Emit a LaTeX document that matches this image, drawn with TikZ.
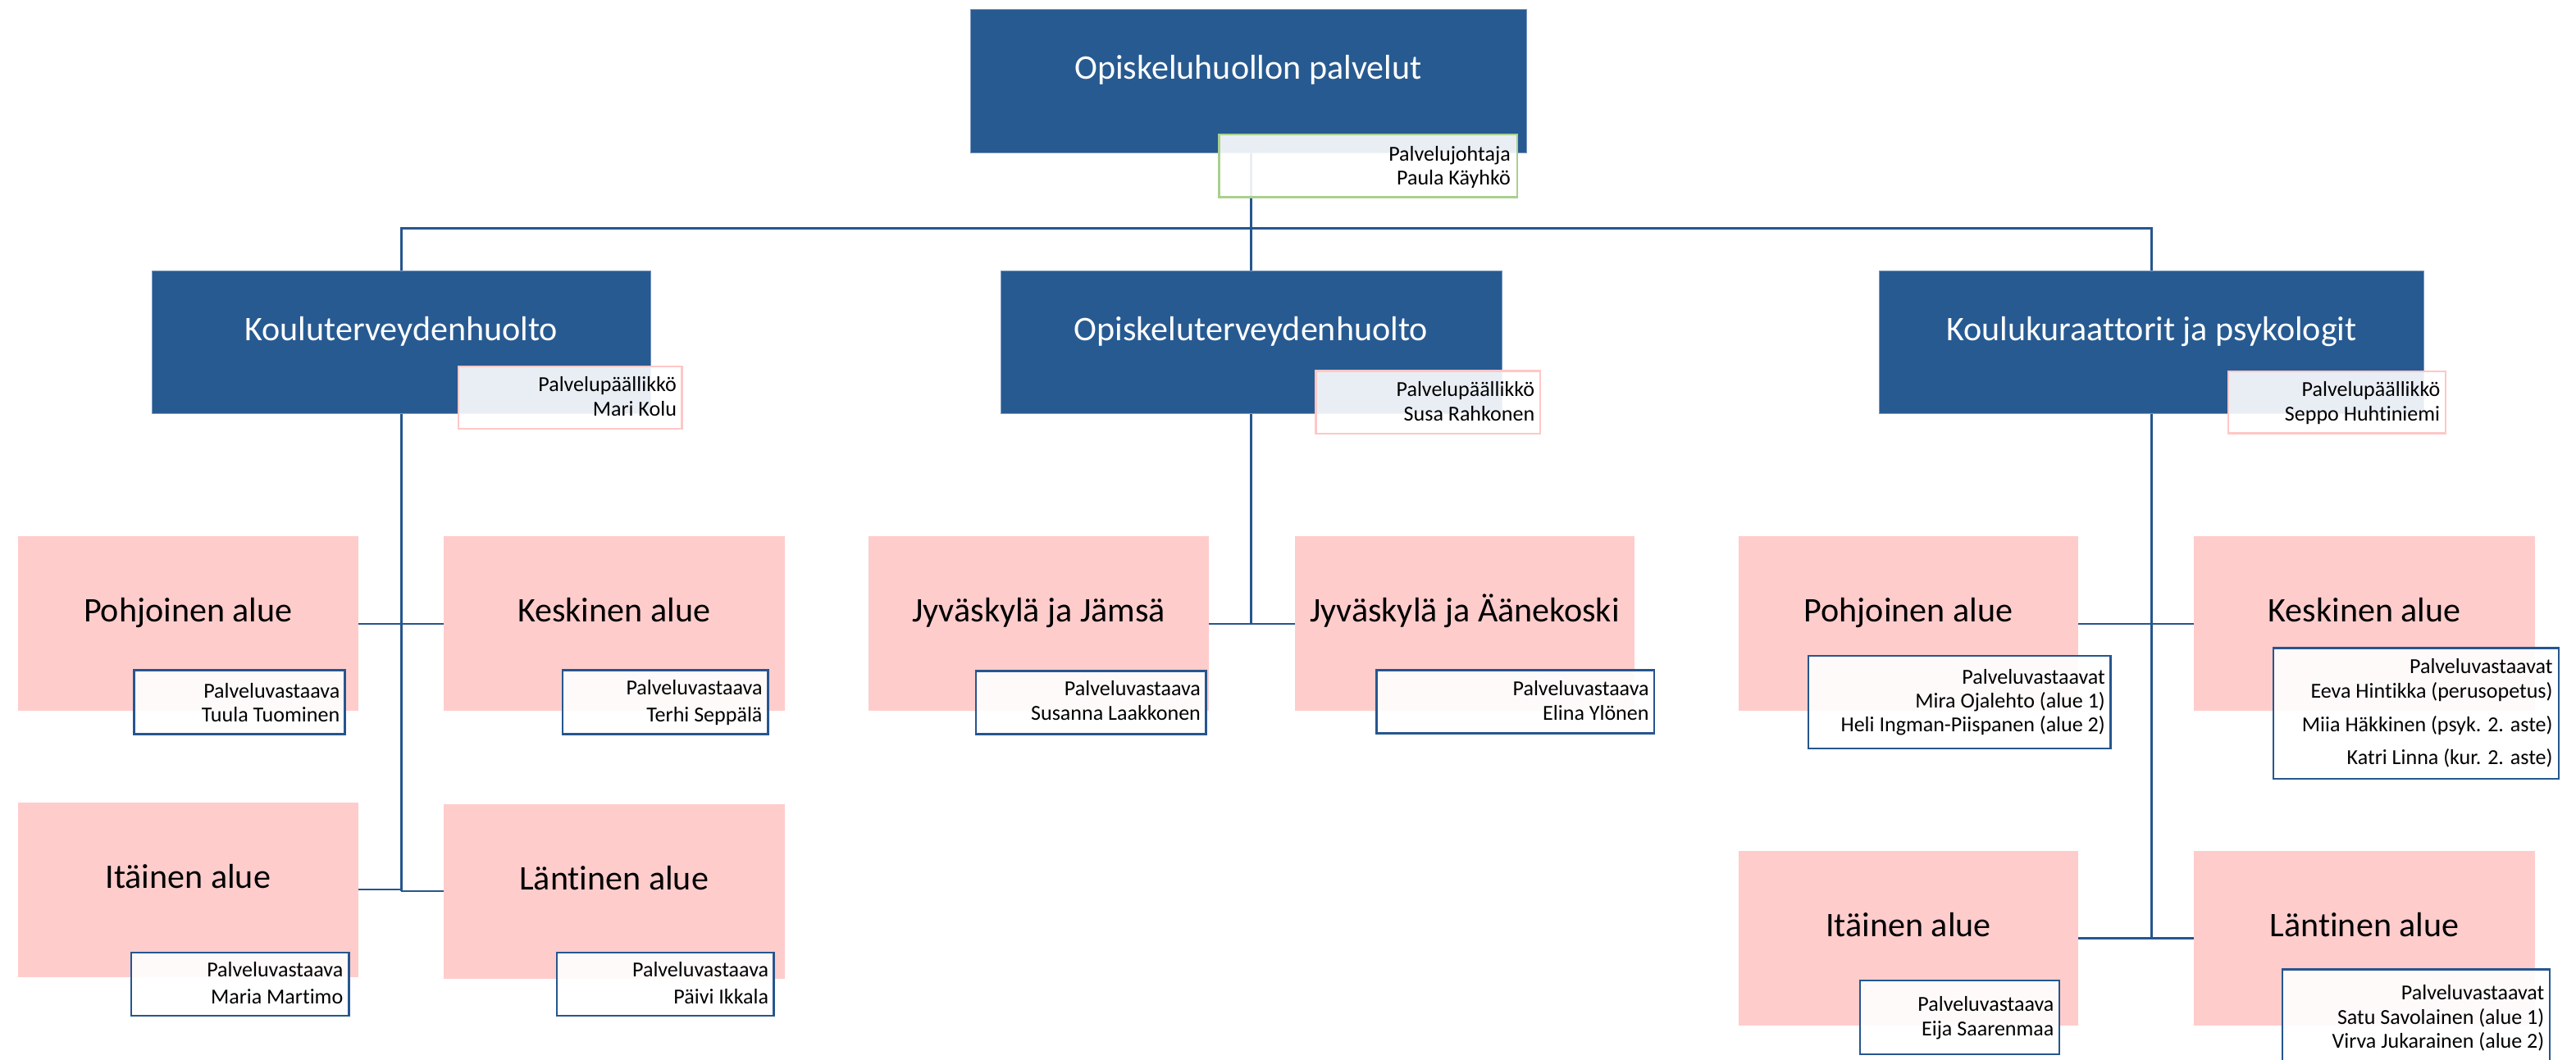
\documentclass[tikz,border=0pt]{standalone}
\usepackage{fontspec}
\setmainfont{Carlito}[Ligatures=NoCommon]
\pgfdeclarelayer{background}
\pgfsetlayers{background,main}
\definecolor{mainblue}{RGB}{39,90,145}
\definecolor{mainedge}{RGB}{120,150,190}
\definecolor{connblue}{RGB}{38,86,142}
\definecolor{areapink}{RGB}{255,204,204}
\definecolor{pinkedge}{RGB}{255,199,199}
\definecolor{greenedge}{RGB}{169,208,142}
\begin{document}
\begin{tikzpicture}[x=1pt,y=-1pt,
  mainbox/.style={rectangle, fill=mainblue, draw=mainedge, line width=0.4pt, text=white,
    font=\fontsize{21}{25}\selectfont, inner sep=0pt, outer sep=0pt, text height=9pt, text depth=11pt},
  areabox/.style={rectangle, fill=areapink, text=black,
    font=\fontsize{21}{25}\selectfont, inner sep=0pt, outer sep=0pt, text height=9pt, text depth=11pt},
  subbox/.style={rectangle, fill=white, fill opacity=0.9, line width=1.2pt, inner sep=0pt, outer sep=0pt},
  headsub/.style={subbox, draw=pinkedge},
  topsub/.style={subbox, draw=greenedge},
  areasub/.style={subbox, draw=connblue},
  subtext/.style={anchor=north east, align=right, inner sep=0pt, outer sep=0pt,
    font=\fontsize{13}{14.5}\selectfont, text=black},
  conn/.style={draw=connblue, line width=1.2pt},
]
\useasboundingbox (0,0) rectangle (1568,645);
\clip (0,0) rectangle (1568,645);

% level 1
\node[mainbox, minimum width=338.4pt, minimum height=87.5pt] (T) at (759.8,49.25) {Opiskeluhuollon palvelut};
% level 2
\node[mainbox, minimum width=303.4pt, minimum height=87.3pt] (K1) at (244.3,208.35) {Kouluterveydenhuolto};
\node[mainbox, minimum width=305pt, minimum height=87.3pt] (K2) at (761.5,208.35) {Opiskeluterveydenhuolto};
\node[mainbox, minimum width=331.5pt, minimum height=87.3pt] (K3) at (1309.6,208.35) {Koulukuraattorit ja psykologit};

% level 3
\node[areabox, minimum width=207pt, minimum height=106.3pt] (A1) at (114.5,379.85) {Pohjoinen alue};
\node[areabox, minimum width=207.5pt, minimum height=106.3pt] (A2) at (373.75,379.85) {Keskinen alue};
\node[areabox, minimum width=207pt, minimum height=106.5pt] (A3) at (114.5,541.75) {Itäinen alue};
\node[areabox, minimum width=207.5pt, minimum height=106.5pt] (A4) at (373.75,542.75) {Läntinen alue};

\node[areabox, minimum width=207.4pt, minimum height=106.3pt] (B1) at (632.3,379.85) {Jyväskylä ja Jämsä};
\node[areabox, minimum width=207pt, minimum height=106.3pt] (B2) at (891.5,379.85) {Jyväskylä ja Äänekoski};

\node[areabox, minimum width=206.7pt, minimum height=106.3pt] (C1) at (1161.65,379.85) {Pohjoinen alue};
\node[areabox, minimum width=207.5pt, minimum height=106.3pt] (C2) at (1439.25,379.85) {Keskinen alue};
\node[areabox, minimum width=206.7pt, minimum height=106.2pt] (C3) at (1161.65,571.4) {Itäinen alue};
\node[areabox, minimum width=207.5pt, minimum height=106.2pt] (C4) at (1439.25,571.4) {Läntinen alue};

% connectors
\begin{pgfonlayer}{background}
\fill[white] (0,0) rectangle (1568,645);
\coordinate (bus) at (0,139);
\draw[conn] (K2.north) -- (K2.north |- T.south);
\draw[conn, line join=miter] (K1.north) -- (K1.north |- bus) -- (K3.north |- bus) -- (K3.north);
\draw[conn] (K1.south) -- (K1.south |- A4.west);
\draw[conn] (A1.east) -- (A2.west);
\draw[conn, line join=miter] (A3.east) -- (K1.south |- A3.east);
\draw[conn, line join=miter] (K1.south |- A4.west) -- (A4.west);
\draw[conn] (K2.south) -- (K2.south |- B1.east);
\draw[conn] (B1.east) -- (B2.west);
\draw[conn] (K3.south) -- (K3.south |- C3.east);
\draw[conn] (C1.east) -- (C2.west);
\draw[conn] (C3.east) -- (C4.west);
\end{pgfonlayer}

% sub boxes, level 1 and 2
\node[topsub, minimum width=181.6pt, minimum height=38pt] (Ts) at (832.8,101) {};
\node[subtext] (Tt) at ([xshift=-4.2pt,yshift=-5.85pt]Ts.north east) {\strut Palvelujohtaja\\Paula Käyhkö};
\node[headsub, minimum width=136pt, minimum height=38pt] (K1s) at (347,242) {};
\node[subtext] (K1t) at ([xshift=-3.2pt,yshift=-5.35pt]K1s.north east) {\strut Palvelupäällikkö\\[0.5pt]Mari Kolu};
\node[headsub, minimum width=136.6pt, minimum height=38.2pt] (K2s) at (869.3,244.9) {};
\node[subtext] (K2t) at ([xshift=-3.5pt,yshift=-5.35pt]K2s.north east) {\strut Palvelupäällikkö\\[0.5pt]Susa Rahkonen};
\node[headsub, minimum width=132.5pt, minimum height=37.8pt] (K3s) at (1422.5,244.9) {};
\node[subtext] (K3t) at ([xshift=-3.5pt,yshift=-5.15pt]K3s.north east) {\strut Palvelupäällikkö\\[0.5pt]Seppo Huhtiniemi};

% sub boxes, level 3
\node[areasub, minimum width=128.4pt, minimum height=39pt] (A1s) at (145.8,427.5) {};
\node[subtext] (A1t) at ([xshift=-3.2pt,yshift=-6.85pt]A1s.north east) {\strut Palveluvastaava\\Tuula Tuominen};
\node[areasub, minimum width=125pt, minimum height=39pt] (A2s) at (405,427.5) {};
\node[subtext] (A2t) at ([xshift=-3.5pt,yshift=-5.15pt]A2s.north east) {\strut Palveluvastaava\\[1.5pt]Terhi Seppälä};
\node[areasub, minimum width=132.5pt, minimum height=38.5pt] (A3s) at (146.25,599.25) {};
\node[subtext] (A3t) at ([xshift=-3.7pt,yshift=-4.85pt]A3s.north east) {\strut Palveluvastaava\\[2pt]Maria Martimo};
\node[areasub, minimum width=132pt, minimum height=38.5pt] (A4s) at (405,599.25) {};
\node[subtext] (A4t) at ([xshift=-3.2pt,yshift=-4.85pt]A4s.north east) {\strut Palveluvastaava\\[2pt]Päivi Ikkala};

\node[areasub, minimum width=140pt, minimum height=38.5pt] (B1s) at (664,427.75) {};
\node[subtext] (B1t) at ([xshift=-3.2pt,yshift=-5.05pt]B1s.north east) {\strut Palveluvastaava\\[0.5pt]Susanna Laakkonen};
\node[areasub, minimum width=169pt, minimum height=38.5pt] (B2s) at (922.5,427.25) {};
\node[subtext] (B2t) at ([xshift=-3.3pt,yshift=-5.55pt]B2s.north east) {\strut Palveluvastaava\\[0.5pt]Elina Ylönen};

\node[areasub, minimum width=183.9pt, minimum height=56.3pt] (C1s) at (1192.75,427.65) {};
\node[subtext] (C1t) at ([xshift=-3.3pt,yshift=-7.05pt]C1s.north east) {\strut Palveluvastaavat\\Mira Ojalehto (alue 1)\\Heli Ingman-Piispanen (alue 2)};
\node[areasub, minimum width=173.7pt, minimum height=79.5pt] (C2s) at (1470.65,434.45) {};
\node[subtext] (C2t) at ([xshift=-3.7pt,yshift=-5.15pt]C2s.north east) {\strut Palveluvastaavat\\[0.8pt]Eeva Hintikka (perusopetus)\\[5.5pt]Miia Häkkinen (psyk. 2. aste)\\[5.7pt]Katri Linna (kur. 2. aste)};
\node[areasub, minimum width=121.2pt, minimum height=45pt] (C3s) at (1192.9,619.5) {};
\node[subtext] (C3t) at ([xshift=-3.3pt,yshift=-8.65pt]C3s.north east) {\strut Palveluvastaava\\[0.5pt]Eija Saarenmaa};
\node[areasub, minimum width=162.7pt, minimum height=70pt] (C4s) at (1470.65,625.3) {};
\node[subtext] (C4t) at ([xshift=-3.3pt,yshift=-8.55pt]C4s.north east) {\strut Palveluvastaavat\\Satu Savolainen (alue 1)\\Virva Jukarainen (alue 2)};
\end{tikzpicture}
\end{document}
